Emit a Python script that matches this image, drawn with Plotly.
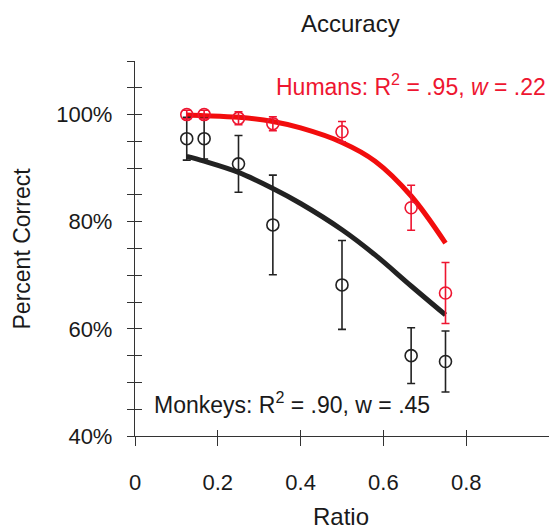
import plotly.graph_objects as go

# ---- data ----
ratios = [0.125, 0.167, 0.25, 0.333, 0.5, 0.667, 0.75]
human_pct = [100.0, 100.0, 99.3, 98.3, 96.8, 82.6, 66.7]
human_err = [0.8, 0.8, 1.2, 1.3, 1.9, 4.2, 5.7]
monkey_pct = [95.5, 95.5, 90.8, 79.4, 68.2, 55.0, 53.9]
monkey_err = [4.0, 3.8, 5.3, 9.3, 8.3, 5.2, 5.7]

fit_ratio = [0.125, 0.167, 0.25, 0.333, 0.4, 0.5, 0.58, 0.667, 0.75]
human_fit = [99.9, 99.8, 99.5, 98.7, 97.5, 94.8, 91.3, 84.8, 76.0]
monkey_fit = [92.2, 91.3, 89.2, 86.2, 83.4, 78.5, 73.8, 68.0, 62.6]

x_ticks = [0, 0.2, 0.4, 0.6, 0.8, 1]
x_ticktext = ["0", "0.2", "0.4", "0.6", "0.8", "1"]
y_ticks = [40, 60, 80, 100]
y_ticktext = ["40%", "60%", "80%", "100%"]
y_all_ticks = [40, 45, 50, 55, 60, 65, 70, 75, 80, 85, 90, 95, 100, 105, 110]

RED = "#ee1530"
LINE_RED = "#f20d0d"
BLACK = "#222222"
AX = "#333333"
FONT = "Liberation Sans, Arial, sans-serif"

fig = go.Figure()

fig.add_trace(go.Scatter(x=fit_ratio, y=monkey_fit, mode="lines",
                         line=dict(color=BLACK, width=5, shape="spline", smoothing=1.0),
                         hoverinfo="skip", showlegend=False))
fig.add_trace(go.Scatter(x=fit_ratio, y=human_fit, mode="lines",
                         line=dict(color=LINE_RED, width=5, shape="spline", smoothing=1.0),
                         hoverinfo="skip", showlegend=False))

fig.add_trace(go.Scatter(x=ratios, y=monkey_pct, mode="markers",
                         marker=dict(symbol="circle-open", size=12, color=BLACK,
                                     line=dict(width=1.6, color=BLACK)),
                         error_y=dict(type="data", array=monkey_err, color=BLACK,
                                      thickness=1.6, width=4),
                         showlegend=False))
fig.add_trace(go.Scatter(x=ratios, y=human_pct, mode="markers",
                         marker=dict(symbol="circle-open", size=12, color=RED,
                                     line=dict(width=1.6, color=RED)),
                         error_y=dict(type="data", array=human_err, color=RED,
                                      thickness=1.6, width=4),
                         showlegend=False))

# overlay axes to get crossing ticks
fig.add_trace(go.Scatter(x=[None], y=[None], xaxis="x2", yaxis="y2",
                         showlegend=False, hoverinfo="skip"))

axis_common = dict(showgrid=False, zeroline=False, color=AX)

fig.update_layout(
    width=549, height=529,
    margin=dict(l=135, r=0, t=61, b=93),
    paper_bgcolor="white", plot_bgcolor="white",
    font=dict(family=FONT, size=22, color="#1a1a1a"),
    xaxis=dict(range=[0, 1.0], tickvals=x_ticks, ticktext=x_ticktext,
               ticks="outside", ticklen=9, tickwidth=1.3, tickcolor=AX,
               showline=True, linecolor=AX, linewidth=1.3,
               tickfont=dict(size=22, color="#1a1a1a"), ticklabelstandoff=17,
               **axis_common),
    yaxis=dict(range=[40, 110], tickvals=y_ticks, ticktext=y_ticktext,
               ticks="outside", ticklen=7, tickwidth=1.3, tickcolor=AX,
               minor=dict(tickvals=y_all_ticks, ticks="outside", ticklen=7,
                          tickwidth=1.3, tickcolor=AX, showgrid=False),
               showline=True, linecolor=AX, linewidth=1.3,
               tickfont=dict(size=22, color="#1a1a1a"), ticklabelstandoff=10,
               **axis_common),
    xaxis2=dict(range=[0, 1.0], overlaying="x", tickvals=x_ticks, ticks="inside",
                ticklen=6, tickwidth=1.3, tickcolor=AX, showticklabels=False,
                showline=False, **axis_common),
    yaxis2=dict(range=[40, 110], overlaying="y", tickvals=y_all_ticks, ticks="inside",
                ticklen=7, tickwidth=1.3, tickcolor=AX, showticklabels=False,
                showline=False, **axis_common),
    showlegend=False,
)

fig.add_annotation(text="Accuracy", xref="paper", yref="paper", x=0.52, y=1.10,
                   showarrow=False, font=dict(size=24, color="#1a1a1a"),
                   xanchor="center", yanchor="middle")
fig.add_annotation(text="Ratio", xref="paper", yref="paper", x=0.497, y=-0.214,
                   showarrow=False, font=dict(size=24, color="#1a1a1a"),
                   xanchor="center", yanchor="middle")
fig.add_annotation(text="Percent Correct", xref="paper", yref="paper", x=-0.273, y=0.50,
                   showarrow=False, textangle=-90, font=dict(size=23, color="#1a1a1a"),
                   xanchor="center", yanchor="middle")
fig.add_annotation(text="Humans: R<sup>2</sup> = .95, <i>w</i> = .22", xref="x", yref="y",
                   x=0.335, y=105.6, showarrow=False, font=dict(size=23, color=RED),
                   xanchor="left", yanchor="middle")
fig.add_annotation(text="Monkeys: R<sup>2</sup> = .90, w = .45", xref="x", yref="y",
                   x=0.040, y=46.1, showarrow=False, font=dict(size=23, color="#1a1a1a"),
                   xanchor="left", yanchor="middle")

fig.write_html("out.html")
